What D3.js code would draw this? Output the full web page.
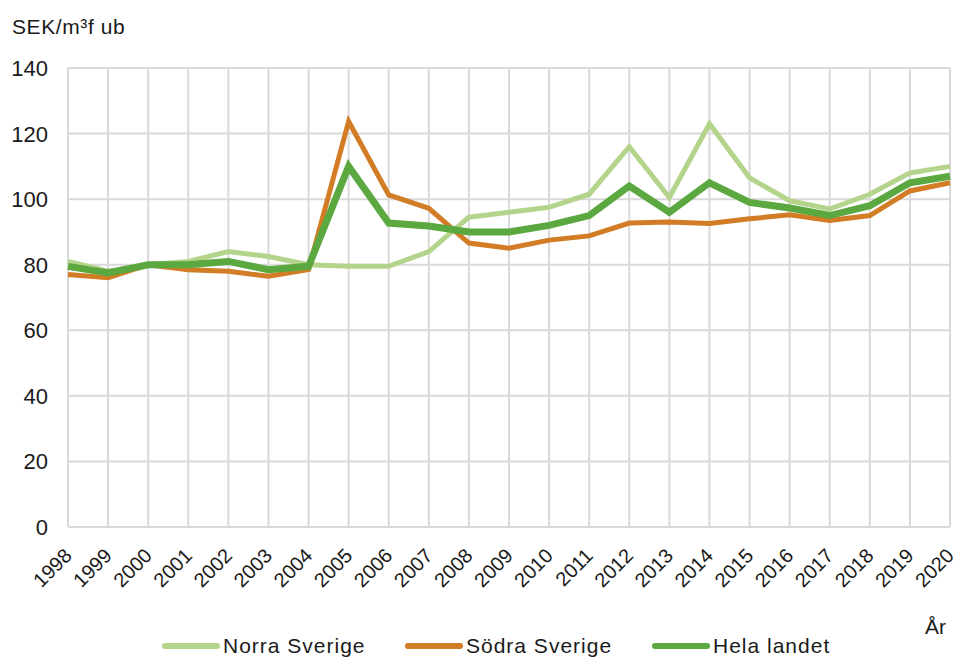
<!DOCTYPE html>
<html lang="sv">
<head>
<meta charset="UTF-8" />
<title>SEK/m3f ub</title>
<script src="https://d3js.org/d3.v7.min.js"></script>
<style>
  body { margin: 0; background: #fff; font-family: "Liberation Sans", Arial, sans-serif; }
  svg text { fill: #1a1a1a; }
</style>
</head>
<body>
<div id="chart"></div>
<script>
// years on the x axis
const years = d3.range(1998, 2021);
const yTicks = [0, 20, 40, 60, 80, 100, 120, 140];

// SEK per m3f ub
const norra = [81, 78, 80, 81, 84, 82.5, 80, 79.5, 79.5, 84, 94.5, 96, 97.5, 101.5, 116, 100.5, 123, 106.5, 99.5, 97, 101.5, 108, 110];
const sodra = [77, 76, 80, 78.5, 78, 76.5, 78.5, 123.7, 101.3, 97.2, 86.6, 85, 87.5, 88.8, 92.7, 93, 92.6, 94, 95.2, 93.5, 95, 102.5, 105];
const hela  = [79.5, 77.5, 80, 80, 81, 78.5, 79.5, 110, 92.7, 91.8, 90, 90, 92, 95, 104, 96, 105, 99, 97.3, 95, 98, 105, 107];

const series = [
  { name: "Norra Sverige", values: norra, color: "#b4d48b", width: 5 },
  { name: "Södra Sverige", values: sodra, color: "#d27c26", width: 5 },
  { name: "Hela landet", values: hela, color: "#5aa83f", width: 7 }
];

const W = 957, H = 659;
const svg = d3.select("#chart").append("svg").attr("width", W).attr("height", H);

const x = d3.scaleLinear().domain([1998, 2020]).range([68, 950]);
const y = d3.scaleLinear().domain([0, 140]).range([527, 68]);

// grid
svg.append("g").selectAll("line.v").data(years).enter().append("line")
  .attr("x1", d => x(d)).attr("x2", d => x(d))
  .attr("y1", y(140)).attr("y2", y(0))
  .attr("stroke", "#d9d9d9").attr("stroke-width", 2);
svg.append("g").selectAll("line.h").data(yTicks).enter().append("line")
  .attr("x1", x(1998)).attr("x2", x(2020))
  .attr("y1", d => y(d)).attr("y2", d => y(d))
  .attr("stroke", "#d9d9d9").attr("stroke-width", 2);

// y tick labels
svg.append("g").selectAll("text").data(yTicks).enter().append("text")
  .attr("x", 48).attr("y", d => y(d) + 8)
  .attr("text-anchor", "end").attr("font-size", 22)
  .text(d => d);

// x tick labels
svg.append("g").selectAll("text").data(years).enter().append("text")
  .attr("text-anchor", "end").attr("font-size", 20)
  .attr("transform", d => `translate(${x(d) + 5},${557}) rotate(-45)`)
  .text(d => d);

// lines
const line = d3.line().x((d, i) => x(years[i])).y(d => y(d));
series.forEach(s => {
  svg.append("path").datum(s.values)
    .attr("d", line).attr("fill", "none")
    .attr("stroke", s.color).attr("stroke-width", s.width)
    .attr("stroke-linejoin", "miter");
});

// titles
svg.append("text").attr("x", 12).attr("y", 34).attr("font-size", 21)
  .attr("letter-spacing", 0.6).text("SEK/m³f ub");
svg.append("text").attr("x", 925).attr("y", 634).attr("font-size", 21).text("År");

// legend
const legend = [{ x: 163 }, { x: 406 }, { x: 653 }];
series.forEach((s, i) => {
  const g = svg.append("g").attr("transform", `translate(${legend[i].x},646)`);
  g.append("line").attr("x1", 2).attr("x2", 54).attr("y1", 0).attr("y2", 0)
    .attr("stroke", s.color).attr("stroke-width", 6).attr("stroke-linecap", "round");
  g.append("text").attr("x", 60).attr("y", 7).attr("font-size", 21)
    .attr("letter-spacing", 1).text(s.name);
});
</script>
</body>
</html>
